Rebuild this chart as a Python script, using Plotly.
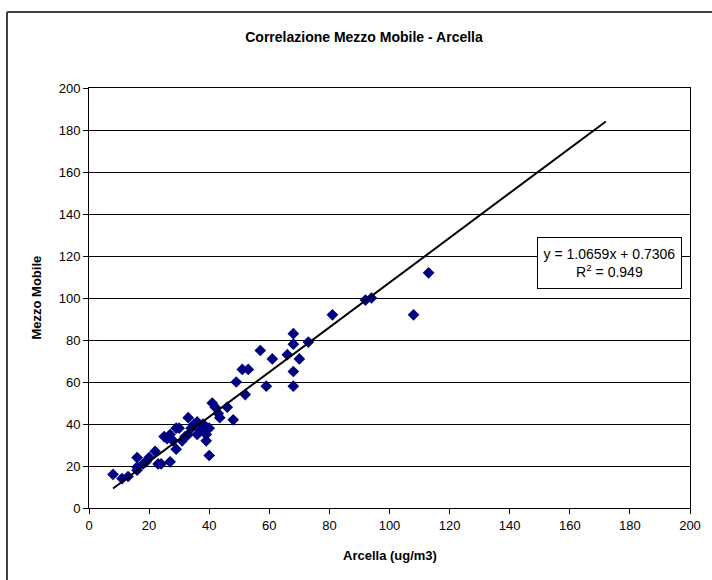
import plotly.graph_objects as go

# Data
arcella = [8, 11, 13, 16, 16, 16, 18, 19, 20, 22, 23, 24, 27, 25, 26, 27, 28, 29, 29, 30,
           31, 32, 33, 33, 34, 35, 36, 36, 37, 38, 39, 40, 39, 40, 41, 42, 43, 43.5, 46, 48,
           49, 51, 53, 52, 57, 59, 61, 66, 68, 68, 68, 68, 70, 73, 81, 92, 94, 108, 113]
mezzo = [16, 14, 15, 18, 19.5, 24, 21, 22, 24, 27, 21, 21, 22, 34, 33, 35, 32, 28, 38, 38,
         32, 34, 43, 35, 38, 40, 41, 35, 37, 40, 35, 38, 32, 25, 50, 48, 45, 43, 48, 42,
         60, 66, 66, 54, 75, 58, 71, 73, 83, 78, 65, 58, 71, 79, 92, 99, 100, 92, 112]

trend_slope = 1.0659
trend_intercept = 0.7306
trend_r2 = 0.949
trend_x = [8, 172]

x_ticks = list(range(0, 201, 20))
y_ticks = list(range(0, 201, 20))

FONT = "Liberation Sans, Arial, sans-serif"

fig = go.Figure()
fig.add_trace(go.Scatter(
    x=arcella, y=mezzo, mode="markers",
    marker=dict(symbol="diamond", size=9, color="#000080", line=dict(width=0)),
    showlegend=False, hoverinfo="x+y"))
fig.add_trace(go.Scatter(
    x=trend_x, y=[trend_slope * v + trend_intercept for v in trend_x], mode="lines",
    line=dict(color="black", width=2), showlegend=False, hoverinfo="skip"))

fig.update_layout(
    width=712, height=580,
    margin=dict(l=89, r=22, t=88, b=72),
    paper_bgcolor="white", plot_bgcolor="white",
    font=dict(family=FONT, size=13, color="black"),
    title=dict(text="<b>Correlazione Mezzo Mobile - Arcella</b>",
               x=364 / 712, xanchor="center", xref="container",
               y=1 - 37 / 580, yanchor="middle", yref="container",
               font=dict(family=FONT, size=14, color="black")),
    xaxis=dict(range=[0, 200], tickvals=x_ticks, showgrid=False, zeroline=False,
               showline=True, linecolor="black", linewidth=1, mirror=True,
               ticks="outside", ticklen=5, tickcolor="black",
               tickfont=dict(family=FONT, size=13, color="black")),
    yaxis=dict(range=[0, 200], tickvals=y_ticks, showgrid=True, gridcolor="black",
               gridwidth=1, zeroline=False,
               showline=True, linecolor="black", linewidth=1, mirror=True,
               ticks="outside", ticklen=5, tickcolor="black",
               tickfont=dict(family=FONT, size=13, color="black")),
    annotations=[
        dict(text="<b>Arcella (ug/m3)</b>", xref="paper", yref="paper",
             x=0.5, y=-0.113, xanchor="center", yanchor="middle", showarrow=False,
             font=dict(family=FONT, size=13, color="black")),
        dict(text="<b>Mezzo Mobile</b>", xref="paper", yref="paper",
             x=-0.089, y=0.5, xanchor="center", yanchor="middle", showarrow=False,
             textangle=-90, font=dict(family=FONT, size=13, color="black")),
        dict(text=f"y = {trend_slope}x + {trend_intercept}<br>R<sup>2</sup> = {trend_r2}",
             xref="x", yref="y", x=173.1, y=116.9, xanchor="center", yanchor="middle",
             showarrow=False, align="center", bgcolor="white", bordercolor="black",
             borderwidth=1, borderpad=4, width=135, height=42,
             font=dict(family=FONT, size=14, color="black")),
    ],
    shapes=[
        dict(type="line", xref="paper", yref="paper",
             x0=(7 - 89) / 601, x1=(7 - 89) / 601,
             y0=(508 - 12) / 420, y1=(508 - 600) / 420,
             line=dict(color="#404040", width=2)),
        dict(type="line", xref="paper", yref="paper",
             x0=(7 - 89) / 601, x1=(730 - 89) / 601,
             y0=(508 - 12) / 420, y1=(508 - 12) / 420,
             line=dict(color="#404040", width=2)),
    ],
)

fig.write_html("out.html", config={"displayModeBar": False},
               post_script="document.body.style.margin='0';")
